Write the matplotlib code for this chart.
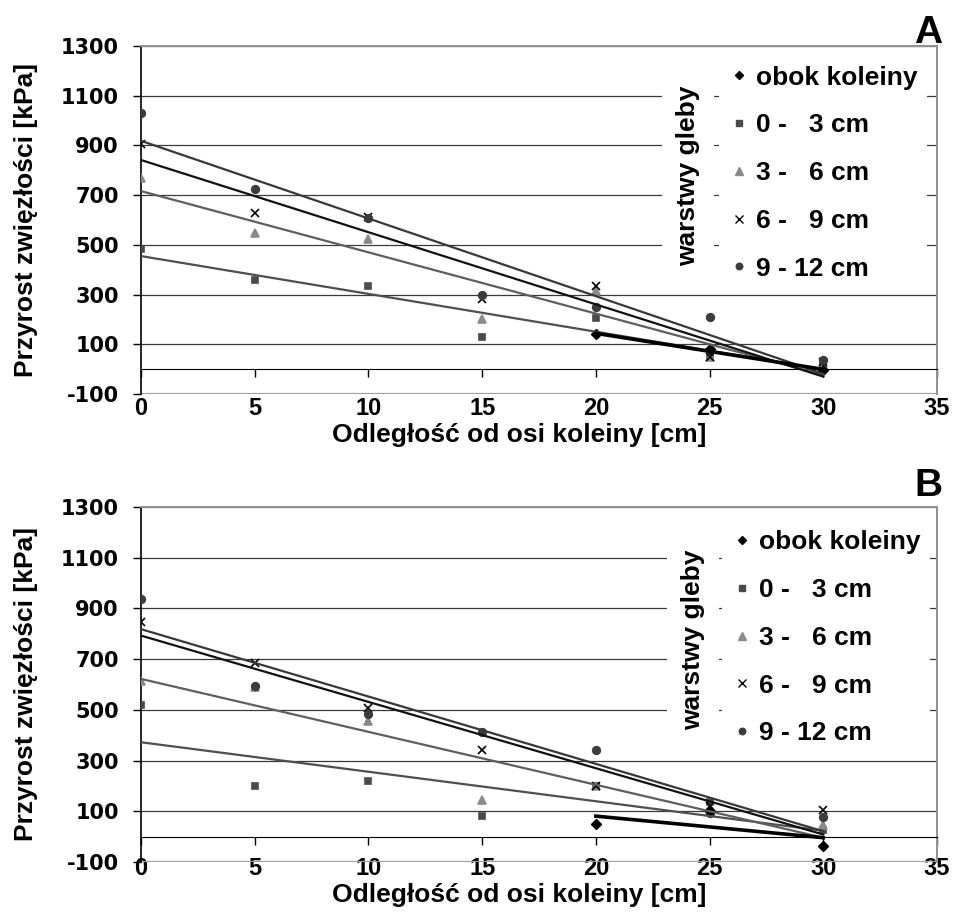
import numpy as np
import matplotlib
matplotlib.use("Agg")
import matplotlib.pyplot as plt
from matplotlib.lines import Line2D

plt.rcParams["axes.unicode_minus"] = False

# odleglosc od osi koleiny [cm]
odl = [0, 5, 10, 15, 20, 25, 30]
obok_x = [20, 25, 30]

# panel A - przyrost zwiezlosci [kPa]
a_0_3 = [485, 359, 336, 128, 204, 50, 25]
a_3_6 = [770, 546, 523, 203, 315, 50, 20]
a_6_9 = [905, 629, 613, 281, 334, 48, 30]
a_9_12 = [1030, 723, 607, 298, 249, 208, 35]
a_obok = [140, 80, -5]

# panel B
b_0_3 = [518, 201, 221, 83, 200, 135, 26]
b_3_6 = [615, 590, 456, 145, 200, 110, 46]
b_6_9 = [848, 683, 506, 342, 200, 120, 105]
b_9_12 = [936, 594, 484, 411, 342, 95, 76]
b_obok = [50, 100, -35]

labels = ["obok koleiny", "0 -   3 cm", "3 -   6 cm", "6 -   9 cm", "9 - 12 cm"]
markers = ["D", "s", "^", "x", "o"]
msizes = [5, 5, 6, 6, 5.5]
mcolors = ["black", "#4a4a4a", "#8a8a8a", "black", "#3c3c3c"]
lcolors = ["black", "#4f4f4f", "#5e5e5e", "#111111", "#383838"]

FONT = "Liberation Sans"

fig = plt.figure(figsize=(9.54, 9.14), dpi=100)


def panel(rect, layers, obok, letter, leg_xy, title_xy, tickpad, xlab_y, letter_y):
    ax = fig.add_axes(rect)
    # warstwy gleby: punkty + linie trendu
    for i, vals in enumerate(layers, start=1):
        ax.plot(odl, vals, ls="none", marker=markers[i], ms=msizes[i],
                color=mcolors[i], mew=1.2, zorder=3)
        a, b = np.polyfit(odl, vals, 1)
        xx = np.array([min(odl), max(odl)])
        ax.plot(xx, a * xx + b, color=lcolors[i], lw=1.6, zorder=4)
    # obok koleiny
    ax.plot(obok_x, obok, ls="none", marker="D", ms=msizes[0], color="black", zorder=3)
    a, b = np.polyfit(obok_x, obok, 1)
    xx = np.array([min(obok_x), max(obok_x)])
    ax.plot(xx, a * xx + b, color="black", lw=2.6, zorder=4)

    ax.set_xlim(0, 35)
    ax.set_ylim(-100, 1300)
    ax.set_xticks(range(0, 36, 5))
    ax.set_yticks(range(-100, 1301, 200))
    ax.yaxis.grid(True, color="#3a3a3a", lw=0.9)
    ax.set_axisbelow(True)
    ax.axhline(-100, color="#a0a0a0", lw=1.6, zorder=2)

    ax.spines["bottom"].set_position(("data", 0))
    ax.spines["bottom"].set_color("black")
    ax.spines["left"].set_color("black")
    ax.spines["left"].set_linewidth(1.2)
    for s in ["top", "right"]:
        ax.spines[s].set_color("#909090")
        ax.spines[s].set_linewidth(1.4)

    ax.tick_params(axis="x", direction="out", length=6, width=1, pad=tickpad)
    ax.tick_params(axis="y", direction="out", length=6, width=1, pad=10)
    for t in ax.get_xticklabels():
        t.set_fontfamily(FONT)
        t.set_fontweight("bold")
        t.set_fontsize(17)
    for t in ax.get_yticklabels():
        t.set_fontfamily("DejaVu Sans")
        t.set_fontweight("bold")
        t.set_fontsize(15)

    ax.set_xlabel("Odległość od osi koleiny [cm]", fontfamily=FONT,
                  fontweight="bold", fontsize=19)
    ax.xaxis.set_label_coords(0.475, xlab_y)
    ax.set_ylabel("Przyrost zwięzłości [kPa]", fontfamily=FONT,
                  fontweight="bold", fontsize=19)
    ax.yaxis.set_label_coords(-0.13, 0.5)

    handles = [Line2D([], [], ls="none", marker=m, ms=s * 0.85, color=c, mew=1)
               for m, s, c in zip(markers, msizes, mcolors)]
    ax.legend(handles, labels, loc="upper left", bbox_to_anchor=leg_xy,
              frameon=True, fancybox=False, edgecolor="none", facecolor="white",
              framealpha=1, handlelength=0.8, handletextpad=0.25,
              labelspacing=0.9, borderaxespad=0, borderpad=0.35,
              prop=dict(family=FONT, weight="bold", size=19))
    ax.text(title_xy[0], title_xy[1], "warstwy gleby", transform=ax.transAxes,
            rotation=90, ha="center", va="center", fontfamily=FONT,
            fontweight="bold", fontsize=19, zorder=6,
            bbox=dict(fc="white", ec="none", pad=10))
    fig.text(0.988, letter_y, letter, ha="right", va="baseline",
             fontfamily=FONT, fontweight="bold", fontsize=28)
    return ax


panel([0.1478, 0.5689, 0.8344, 0.3808],
      [a_0_3, a_3_6, a_6_9, a_9_12], a_obok, "A",
      (0.726, 0.97), (0.687, 0.626), 14, -0.082, 0.953)
panel([0.1478, 0.0569, 0.8344, 0.3884],
      [b_0_3, b_3_6, b_6_9, b_9_12], b_obok, "B",
      (0.730, 0.96), (0.693, 0.626), 9, -0.06, 0.457)

fig.savefig("out.png", dpi=100)
